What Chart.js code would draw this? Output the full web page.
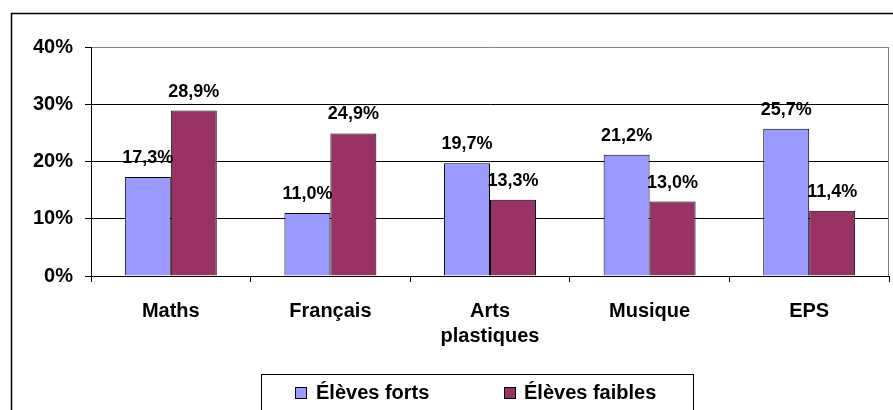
<!DOCTYPE html>
<html>
<head>
<meta charset="utf-8">
<script src="https://cdn.jsdelivr.net/npm/chart.js@4/dist/chart.umd.min.js"></script>
<style>
html,body{margin:0;padding:0;background:#fff;}
canvas{display:block;}
</style>
</head>
<body>
<canvas id="c" width="893" height="410"></canvas>
<script>
const categories = ["Maths", "Français", ["Arts", "plastiques"], "Musique", "EPS"];
const seriesNames = ["Élèves forts", "Élèves faibles"];
const forts = [17.3, 11.0, 19.7, 21.2, 25.7];
const faibles = [28.9, 24.9, 13.3, 13.0, 11.4];
const yTicks = [0, 10, 20, 30, 40];
const colors = ["#9999FF", "#993366"];

const FONT = "Arial, 'Liberation Sans', sans-serif";

const decor = {
  id: 'decor',
  beforeDraw(chart) {
    const ctx = chart.ctx;
    ctx.save();
    ctx.fillStyle = '#fff';
    ctx.fillRect(0, 0, chart.width, chart.height);
    ctx.strokeStyle = '#000';
    ctx.lineWidth = 1.5;
    ctx.strokeRect(11.5, 13.5, 900, 420);
    ctx.restore();
  },
  afterDraw(chart) {
    const ctx = chart.ctx;
    const a = chart.chartArea;
    ctx.save();
    ctx.strokeStyle = '#808080';
    ctx.lineWidth = 1;
    ctx.beginPath();
    ctx.moveTo(Math.round(a.right) - 0.5, Math.round(a.top));
    ctx.lineTo(Math.round(a.right) - 0.5, Math.round(a.bottom));
    ctx.stroke();
    // legend
    ctx.strokeStyle = '#000';
    ctx.lineWidth = 1;
    ctx.strokeRect(261.5, 374.5, 432, 50);
    const items = [{x: 295, tx: 316}, {x: 504, tx: 524}];
    ctx.font = "bold 20px " + FONT;
    ctx.textBaseline = 'middle';
    ctx.textAlign = 'left';
    chart.data.datasets.forEach((ds, i) => {
      const it = items[i];
      ctx.fillStyle = ds.backgroundColor;
      ctx.fillRect(it.x + 0.5, 387.5, 11, 11);
      ctx.strokeStyle = '#000';
      ctx.strokeRect(it.x + 0.5, 387.5, 11, 11);
      ctx.fillStyle = '#000';
      ctx.fillText(ds.label, it.tx, 393);
    });
    ctx.restore();
  },
  afterDatasetsDraw(chart) {
    const ctx = chart.ctx;
    ctx.save();
    ctx.font = "bold 18px " + FONT;
    ctx.fillStyle = '#000';
    ctx.textAlign = 'center';
    ctx.textBaseline = 'middle';
    chart.data.datasets.forEach((ds, di) => {
      const meta = chart.getDatasetMeta(di);
      meta.data.forEach((bar, i) => {
        const v = ds.data[i];
        ctx.fillText(v.toFixed(1).replace('.', ',') + '%', bar.x, bar.y - 19);
      });
    });
    ctx.restore();
  }
};

new Chart(document.getElementById('c'), {
  type: 'bar',
  data: {
    labels: categories,
    datasets: [
      {label: seriesNames[0], data: forts, backgroundColor: colors[0], borderColor: '#000', borderWidth: 1, borderSkipped: 'start'},
      {label: seriesNames[1], data: faibles, backgroundColor: colors[1], borderColor: '#000', borderWidth: 1, borderSkipped: 'start'}
    ]
  },
  options: {
    responsive: false,
    animation: false,
    devicePixelRatio: 1,
    datasets: {bar: {categoryPercentage: 0.576, barPercentage: 1.0}},
    layout: {padding: {left: 11, top: 47, right: 4, bottom: 0}},
    plugins: {legend: {display: false}, tooltip: {enabled: false}},
    scales: {
      x: {
        afterFit(s) { s.height = 134; },
        grid: {drawOnChartArea: false, drawTicks: true, tickLength: 6, color: '#000', offset: true},
        border: {display: true, color: '#000', width: 1},
        ticks: {color: '#000', padding: 17, font: {family: FONT, size: 20, weight: 'bold', lineHeight: 1.25}, maxRotation: 0}
      },
      y: {
        min: 0, max: 40,
        afterFit(s) { s.width = 80; },
        afterBuildTicks(s) { s.ticks = yTicks.map(v => ({value: v})); },
        grid: {
          color: (c) => (c.tick && c.tick.value === 40) ? '#808080' : '#000',
          tickColor: '#000',
          tickLength: 6,
          drawTicks: true
        },
        border: {display: true, color: '#000', width: 1},
        ticks: {color: '#000', padding: 12, callback: v => v + '%', font: {family: FONT, size: 20, weight: 'bold'}}
      }
    }
  },
  plugins: [decor]
});
</script>
</body>
</html>
